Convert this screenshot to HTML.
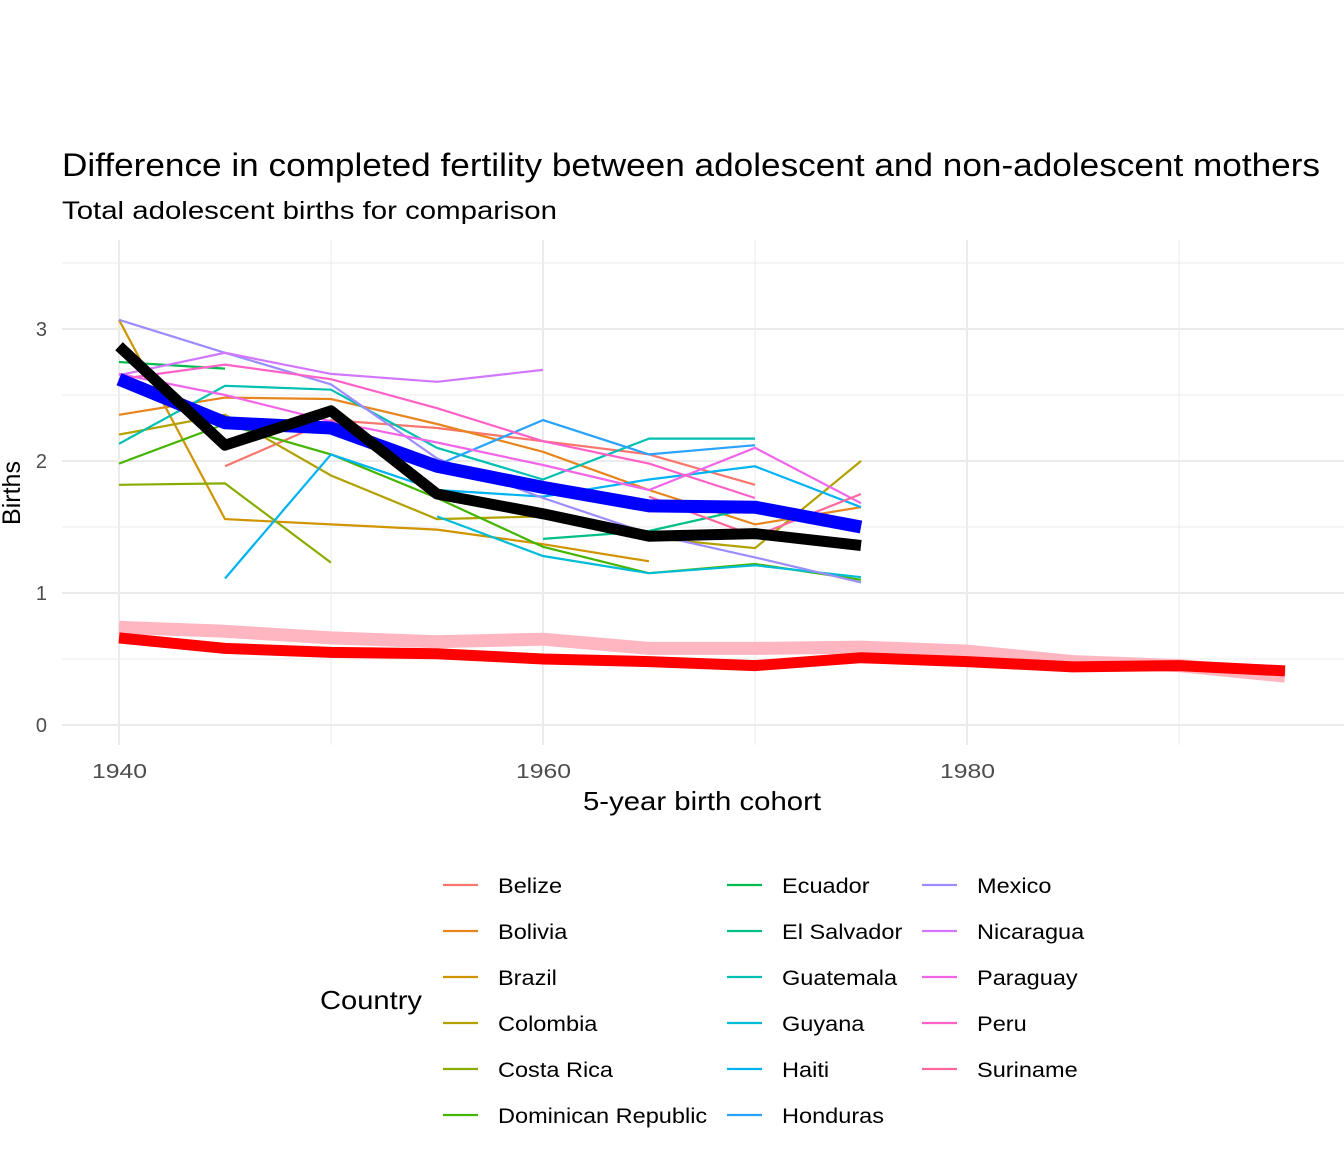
<!DOCTYPE html>
<html><head><meta charset="utf-8"><style>
body{margin:0;background:#fff;}
svg{display:block;font-family:"Liberation Sans",Arial,sans-serif;}
</style></head><body>
<svg id="chart" width="1344" height="1152" viewBox="0 0 1344 1152">
<rect width="1344" height="1152" fill="#fff"/>
<text x="62" y="176" font-size="32" fill="#000" textLength="1258" lengthAdjust="spacingAndGlyphs">Difference in completed fertility between adolescent and non-adolescent mothers</text>
<text x="62" y="219" font-size="25" fill="#000" textLength="495" lengthAdjust="spacingAndGlyphs">Total adolescent births for comparison</text>
<g id="grid"></g>
<g id="series"></g>
<g id="axes"></g>
<text x="583" y="810" font-size="26" textLength="238" lengthAdjust="spacingAndGlyphs">5-year birth cohort</text>
<text transform="translate(20,493) rotate(-90)" font-size="25" text-anchor="middle">Births</text>
<g id="legend">
<text x="320" y="1009" font-size="26" textLength="102" lengthAdjust="spacingAndGlyphs">Country</text>
</g>
</svg>
<script>
const countries=["Belize","Bolivia","Brazil","Colombia","Costa Rica","Dominican Republic","Ecuador","El Salvador","Guatemala","Guyana","Haiti","Honduras","Mexico","Nicaragua","Paraguay","Peru","Suriname"];
const colors=["#F8766D","#E7851E","#D09400","#B2A100","#89AC00","#45B500","#00BC51","#00C087","#00C0B2","#00BCD6","#00B3F2","#29A3FF","#9C8DFF","#D277FF","#F166E8","#FF61C7","#FF689E"];
const cohortYears=[1940,1945,1950,1955,1960,1965,1970,1975];
const countryValues=[
[null,1.96,2.31,2.25,2.15,2.05,1.82,null],
[2.35,2.48,2.47,2.28,2.07,1.78,1.52,1.65],
[3.07,1.56,1.52,1.48,1.37,1.24,null,null],
[2.2,2.35,1.89,1.56,1.58,1.42,1.34,2.0],
[1.82,1.83,1.23,null,null,null,null,null],
[1.98,2.28,2.05,1.72,1.35,1.15,1.22,1.1],
[2.75,2.7,null,null,null,null,null,null],
[null,null,null,null,1.41,1.47,1.65,null],
[2.13,2.57,2.54,2.1,1.86,2.17,2.17,null],
[null,null,null,1.58,1.28,1.15,1.21,1.12],
[null,1.11,2.05,1.78,1.73,1.86,1.96,1.65],
[null,null,null,1.97,2.31,2.05,2.12,null],
[3.07,2.82,2.58,2.02,1.72,1.45,1.27,1.08],
[2.65,2.82,2.66,2.6,2.69,null,null,null],
[2.66,2.5,2.3,2.14,1.97,1.78,2.1,1.68],
[2.62,2.73,2.62,2.4,2.15,1.98,1.72,null],
[null,null,null,null,null,1.73,1.43,1.75]];
const meanValues=[2.62,2.29,2.25,1.96,1.8,1.66,1.65,1.5];
const diffValues=[2.87,2.12,2.38,1.75,1.6,1.43,1.45,1.36];
const adolYears=[1940,1945,1950,1955,1960,1965,1970,1975,1980,1985,1990,1995];
const adolPinkValues=[0.74,0.71,0.66,0.63,0.65,0.58,0.58,0.59,0.56,0.48,0.45,0.37];
const adolRedValues=[0.66,0.58,0.55,0.54,0.5,0.48,0.45,0.51,0.48,0.44,0.45,0.41];
const xTicks=[1940,1960,1980];
const yTicks=[0,1,2,3];

const NS="http://www.w3.org/2000/svg";
const X=v=>119+(v-1940)*21.2;
const Y=v=>725-v*132;
function mk(tag,attrs,parent){const e=document.createElementNS(NS,tag);for(const k in attrs)e.setAttribute(k,attrs[k]);parent.appendChild(e);return e;}
function stretch(t,f){const w=t.getComputedTextLength();t.setAttribute('textLength',(w*f).toFixed(1));t.setAttribute('lengthAdjust','spacingAndGlyphs');}
const grid=document.getElementById('grid'),ser=document.getElementById('series'),axes=document.getElementById('axes'),leg=document.getElementById('legend');
for(let v=0.5;v<=3.5;v+=1){const l=mk('line',{x1:62,x2:1344,y1:Y(v),y2:Y(v),stroke:'#ebebeb','stroke-width':1},grid);}
for(const v of [1950,1970,1990]){const l=mk('line',{x1:X(v),x2:X(v),y1:240,y2:745,stroke:'#ebebeb','stroke-width':1},grid);}
for(const v of yTicks){const l=mk('line',{x1:62,x2:1344,y1:Y(v),y2:Y(v),stroke:'#ebebeb','stroke-width':2},grid);
const t=mk('text',{x:47,y:Y(v)+7,'font-size':20,fill:'#4d4d4d','text-anchor':'end'},axes);t.textContent=v;}
for(const v of xTicks){const l=mk('line',{x1:X(v),x2:X(v),y1:240,y2:745,stroke:'#ebebeb','stroke-width':2},grid);
const t=mk('text',{x:X(v)-27,y:778,'font-size':20,fill:'#4d4d4d'},axes);t.textContent=v;t.setAttribute('textLength','55');t.setAttribute('lengthAdjust','spacingAndGlyphs');}
function path(xs,ys){let d='',pen=false;for(let i=0;i<xs.length;i++){if(ys[i]==null){pen=false;continue;}d+=(pen?'L':'M')+X(xs[i]).toFixed(1)+','+Y(ys[i]).toFixed(1);pen=true;}return d;}
let p=mk('path',{d:path(adolYears,adolPinkValues),fill:'none',stroke:'#FFB6C1','stroke-width':13,'stroke-linejoin':'round'},ser);

p=mk('path',{d:path(adolYears,adolRedValues),fill:'none',stroke:'#FF0000','stroke-width':11,'stroke-linejoin':'round'},ser);

countries.forEach((c,i)=>{const e=mk('path',{d:path(cohortYears,countryValues[i]),fill:'none',stroke:colors[i],'stroke-width':2.2},ser);

});
p=mk('path',{d:path(cohortYears,meanValues),fill:'none',stroke:'#0000FF','stroke-width':13,'stroke-linejoin':'round'},ser);

p=mk('path',{d:path(cohortYears,diffValues),fill:'none',stroke:'#000','stroke-width':11,'stroke-linejoin':'round'},ser);

const colK=[443,727,922],colT=[498,782,977];
countries.forEach((c,i)=>{const col=Math.floor(i/6),row=i%6,y=885+row*46;
const l=mk('line',{x1:colK[col],x2:colK[col]+35,y1:y,y2:y,stroke:colors[i],'stroke-width':2.2},leg);


const t=mk('text',{x:colT[col],y:y+8,'font-size':21},leg);t.textContent=c;


stretch(t,1.12);});
</script>
</body></html>
